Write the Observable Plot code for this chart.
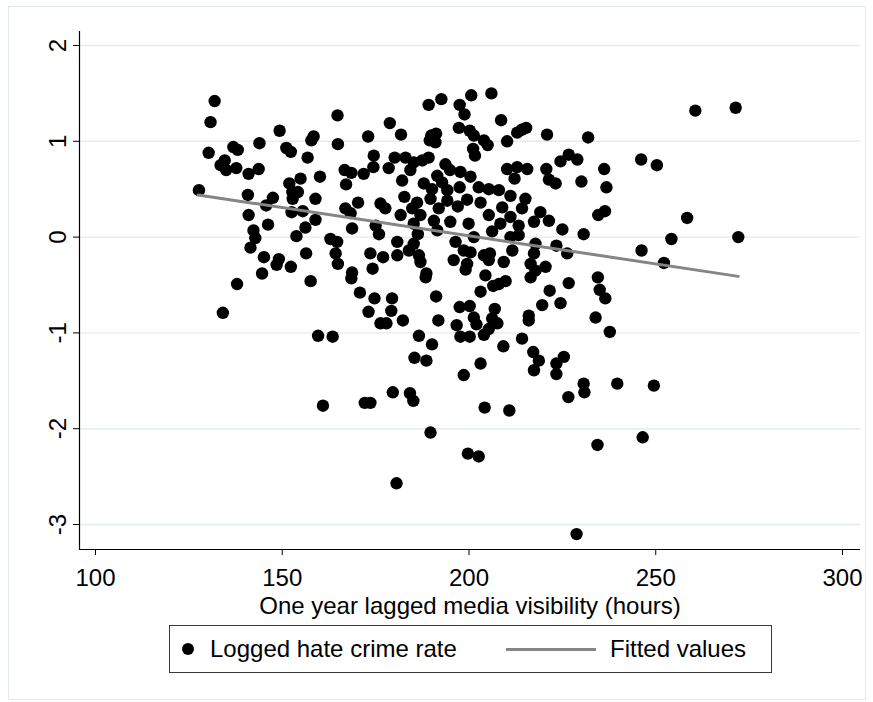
<!DOCTYPE html>
<html><head><meta charset="utf-8">
<script src="https://cdn.jsdelivr.net/npm/d3@7"></script>
<script src="https://cdn.jsdelivr.net/npm/@observablehq/plot@0.6"></script>
<style>
html,body{margin:0;padding:0;background:#fff;}
body{width:873px;height:702px;position:relative;overflow:hidden;font-family:"Liberation Sans",Arial,Helvetica,sans-serif;}
#frame{position:absolute;left:8px;top:6px;width:858px;height:694px;border:1px solid #e3eaee;box-sizing:border-box;}
#chart{position:absolute;left:0;top:0;}
#legend{position:absolute;left:169px;top:625px;width:603px;height:48px;border:1px solid #3a3a3a;box-sizing:border-box;font-size:24px;color:#000;background:#fff;}
.item{position:absolute;top:0;height:100%;display:flex;align-items:center;white-space:nowrap;}
</style></head>
<body>
<div id="frame"></div>
<div id="chart"></div>
<div id="legend">
 <div class="item" style="left:12px"><span style="display:inline-block;width:12px;height:12px;border-radius:50%;background:#000;margin-right:16px"></span>Logged hate crime rate</div>
 <div class="item" style="left:336px"><span style="display:inline-block;width:90px;height:3px;background:#858585;margin-right:14px"></span>Fitted values</div>
</div>
<script>
// [media visibility (hours), logged hate crime rate]
const observations = [
[131.9,1.42],[130.8,1.20],[164.8,1.27],[149.3,1.11],[158.4,1.05],[157.8,1.01],[164.9,0.97],[173.0,1.05],[143.9,0.98],[136.9,0.94],
[138.1,0.91],[130.3,0.88],[151.1,0.93],[152.3,0.89],[156.8,0.83],[134.6,0.80],[133.5,0.75],[135.0,0.70],[137.7,0.72],[143.7,0.71],
[141.0,0.66],[160.1,0.63],[154.9,0.61],[151.9,0.56],[166.7,0.70],[168.5,0.67],[171.8,0.66],[174.4,0.73],[174.5,0.85],[167.1,0.55],
[127.7,0.49],[140.8,0.44],[147.5,0.41],[152.7,0.47],[154.2,0.47],[152.8,0.40],[158.9,0.40],[145.7,0.33],[170.3,0.36],[166.9,0.30],
[168.3,0.25],[152.5,0.26],[155.5,0.27],[141.0,0.23],[146.2,0.13],[156.2,0.10],[158.9,0.18],[142.3,0.07],[168.7,0.09],[153.8,0.01],
[162.9,-0.02],[175.0,0.12],
[189.2,1.38],[192.6,1.44],[200.6,1.48],[206.0,1.50],[197.5,1.38],[198.8,1.28],[178.8,1.19],[181.8,1.07],[208.6,1.22],[197.3,1.14],
[200.2,1.11],[212.9,1.09],[215.3,1.14],[214.1,1.12],[220.9,1.07],[189.9,1.06],[191.2,1.08],[189.5,1.01],[191.0,0.99],[210.2,1.00],
[201.3,1.06],[204.0,1.01],[205.0,0.96],[201.1,0.92],[201.6,0.85],[180.1,0.83],[183.0,0.83],[189.2,0.83],[187.5,0.80],[185.2,0.78],
[178.5,0.72],[184.3,0.70],[182.1,0.59],[193.7,0.76],[191.5,0.64],[194.9,0.70],[197.7,0.68],[200.4,0.63],[192.8,0.57],[197.5,0.52],
[187.9,0.56],[190.1,0.50],[194.2,0.49],[210.2,0.71],[212.9,0.73],[215.6,0.71],[212.2,0.61],[220.7,0.71],[221.4,0.60],[224.5,0.79],
[202.6,0.52],[205.3,0.50],[208.0,0.49],[211.1,0.43],[215.1,0.40],[182.7,0.42],[186.1,0.36],[189.7,0.40],[194.2,0.38],[199.5,0.39],
[203.1,0.36],[176.3,0.35],[177.6,0.30],[184.8,0.30],[191.9,0.30],[197.0,0.32],[208.9,0.31],[214.2,0.30],[181.7,0.23],[187.0,0.23],
[205.3,0.23],[211.1,0.21],[217.4,0.16],[219.1,0.26],[221.4,0.17],[185.2,0.14],[190.6,0.17],[195.0,0.16],[199.9,0.14],[208.4,0.14],
[213.3,0.12],[186.3,0.03],[206.2,0.06],[225.0,0.08],
[260.6,1.32],[271.4,1.35],[231.9,1.04],[226.7,0.86],[229.0,0.81],[236.2,0.71],[246.1,0.81],[250.3,0.75],[230.1,0.58],[223.2,0.56],
[236.8,0.52],[236.4,0.27],[234.6,0.23],[258.4,0.20],[230.7,0.03],[254.2,-0.02],[272.1,0.00],
[142.8,-0.01],[141.5,-0.11],[164.7,-0.05],[164.3,-0.17],[164.9,-0.28],[145.1,-0.21],[149.1,-0.23],[148.5,-0.29],[152.3,-0.31],[156.4,-0.17],
[144.6,-0.38],[137.9,-0.49],[157.6,-0.46],[168.7,-0.37],[168.5,-0.43],[170.8,-0.58],[173.6,-0.17],[174.2,-0.33],[174.7,-0.64],[173.1,-0.78],
[134.1,-0.79],[159.6,-1.03],[163.5,-1.04],
[175.9,0.03],[180.8,-0.05],[185.2,-0.07],[177.0,-0.21],[180.8,-0.19],[183.9,-0.14],[186.6,-0.19],[187.0,-0.26],[188.6,-0.38],[188.4,-0.42],
[191.5,0.07],[196.4,-0.05],[198.6,-0.14],[200.4,-0.16],[195.9,-0.24],[199.5,-0.28],[199.1,-0.34],[204.0,-0.19],[205.6,-0.17],[205.3,-0.24],
[209.3,-0.26],[201.3,0.00],[211.1,0.00],[213.3,0.02],[211.6,-0.14],[217.8,-0.07],[217.4,-0.17],[216.5,-0.28],[220.5,-0.31],[217.8,-0.35],
[216.5,-0.42],[204.4,-0.40],[206.5,-0.51],[208.0,-0.49],[209.8,-0.46],[203.1,-0.57],[221.6,-0.56],[223.4,-0.09],[179.4,-0.64],[179.2,-0.77],
[176.3,-0.90],[177.9,-0.90],[182.3,-0.87],[191.2,-0.62],[191.8,-0.87],[197.5,-0.73],[200.2,-0.72],[201.3,-0.84],[202.0,-0.91],[196.7,-0.92],
[197.7,-1.04],[200.2,-1.04],[206.9,-0.75],[206.2,-0.85],[207.6,-0.90],[205.3,-0.96],[204.0,-1.02],[216.0,-0.82],[216.0,-0.87],[219.6,-0.71],
[224.5,-0.69],[214.2,-1.06],[209.2,-1.14],[186.6,-1.03],[190.1,-1.12],[185.4,-1.26],[188.6,-1.29],[203.1,-1.32],[198.6,-1.44],[217.2,-1.20],
[218.7,-1.29],[217.4,-1.39],[223.4,-1.32],[223.4,-1.43],
[226.3,-0.17],[246.2,-0.14],[252.2,-0.27],[234.5,-0.42],[226.7,-0.48],[235.0,-0.55],[236.5,-0.64],[233.9,-0.84],[237.7,-0.99],[225.4,-1.25],
[230.7,-1.53],[239.7,-1.53],[249.5,-1.55],
[160.9,-1.76],[172.1,-1.73],[173.6,-1.73],[179.6,-1.62],[184.2,-1.63],[185.1,-1.71],[204.2,-1.78],[210.8,-1.81],[189.7,-2.04],[199.7,-2.26],
[202.6,-2.29],[180.6,-2.57],
[230.9,-1.62],[226.6,-1.67],[234.4,-2.17],[246.5,-2.09],[228.8,-3.10]
];

const fitX = [127.5, 272.1];      // fitted values endpoints (hours)
const fitY = [0.44, -0.41];       // fitted values endpoints
const xTicks = [100, 150, 200, 250, 300];
const yTicks = [-3, -2, -1, 0, 1, 2];
const xDomain = [95.72, 304.82];
const yDomain = [-3.261, 2.146];
const xTitle = "One year lagged media visibility (hours)";

const pts = observations.map(([x, y]) => ({x, y}));
const fit = fitX.map((x, i) => ({x, y: fitY[i]}));
const font = '"Liberation Sans", Arial, Helvetica, sans-serif';

const chart = Plot.plot({
  width: 873,
  height: 625,
  marginLeft: 79,
  marginRight: 13,
  marginTop: 31,
  marginBottom: 76,
  style: {fontFamily: font, fontSize: "24px", color: "#000", background: "transparent", overflow: "visible"},
  x: {domain: xDomain},
  y: {domain: yDomain},
  marks: [
    Plot.ruleY(yTicks, {stroke: "#e4ecef", strokeWidth: 1.4}),
    Plot.ruleX([xDomain[0]], {stroke: "#000", strokeWidth: 1.2}),
    Plot.ruleY([yDomain[0]], {stroke: "#000", strokeWidth: 1.2}),
    Plot.axisX({ticks: xTicks, tickSize: 6, tickPadding: 13, tickFormat: d => String(d), label: null}),
    Plot.axisY({ticks: yTicks, tickSize: 6, tickPadding: 8, tickRotate: -90, tickFormat: d => String(d), label: null}),
    Plot.dot(pts, {x: "x", y: "y", r: 6.2, fill: "#000"}),
    Plot.line(fit, {x: "x", y: "y", stroke: "#858585", strokeWidth: 3}),
    Plot.text([xTitle], {text: d => d, frameAnchor: "bottom", dy: 64, lineAnchor: "bottom", fontSize: 24})
  ]
});
document.getElementById("chart").appendChild(chart);
</script>
</body></html>
